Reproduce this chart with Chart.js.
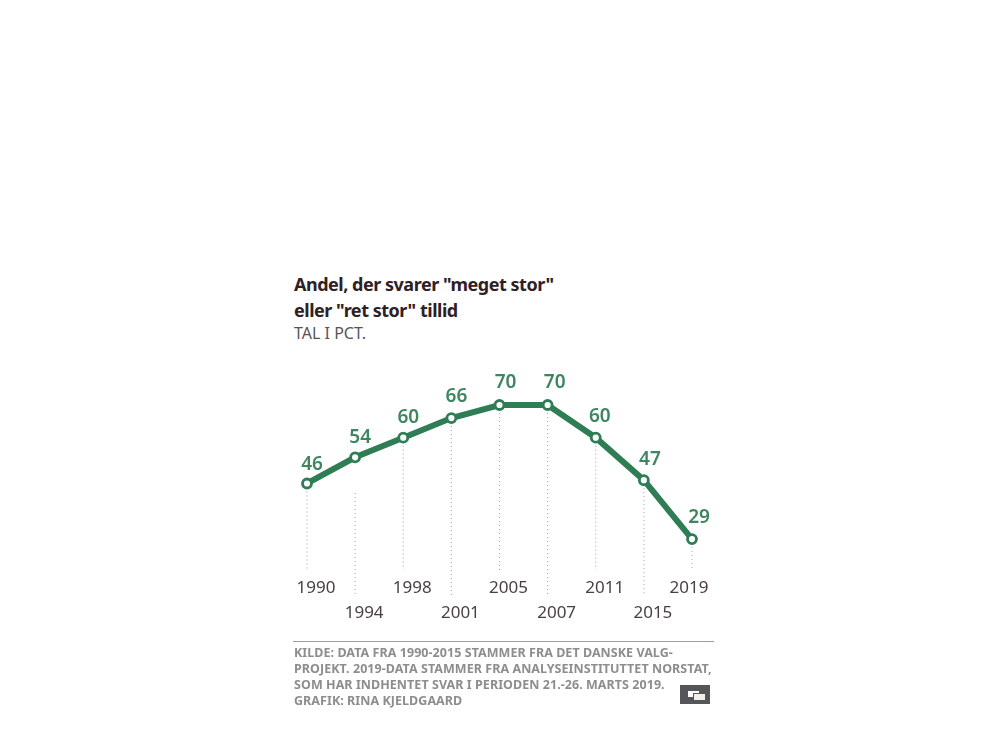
<!DOCTYPE html>
<html lang="da">
<head>
<meta charset="utf-8">
<title>Andel, der svarer "meget stor" eller "ret stor" tillid</title>
<script src="https://cdn.jsdelivr.net/npm/chart.js@4"></script>
<style>
    html, body { margin: 0; padding: 0; background: #fff; }
    body { width: 1000px; height: 750px; position: relative; overflow: hidden; font-family: "Noto Sans", sans-serif; }
    #myChart { position: absolute; left: 0; top: 0; }
    .txt { position: absolute; white-space: nowrap; }
    #title { left: 294px; top: 271px; font-size: 18px; line-height: 26px; font-weight: 700; color: #2f2024; letter-spacing: -0.48px; }
    #subtitle { left: 294px; top: 322px; font-size: 16px; line-height: 22px; color: #5a5356; letter-spacing: 0; }
    #rule { position: absolute; left: 293px; top: 641px; width: 421px; height: 1px; background: #a89a9a; }
    #source { left: 294px; top: 645px; font-size: 12.5px; line-height: 16px; font-weight: 700; color: #8d8d8d; letter-spacing: 0.05px; }
    #icon { position: absolute; left: 680px; top: 685px; width: 30px; height: 19px; background: #55565a; }
    #icon i { position: absolute; display: block; background: #fff; border: 1px solid #55565a; }
</style>
</head>
<body>
<div class="txt" id="title">Andel, der svarer "meget stor"<br>eller "ret stor" tillid</div>
<div class="txt" id="subtitle">TAL I PCT.</div>
<canvas id="myChart" width="1000" height="750"></canvas>
<div id="rule"></div>
<div class="txt" id="source">KILDE: DATA FRA 1990-2015 STAMMER FRA DET DANSKE VALG-<br>PROJEKT. 2019-DATA STAMMER FRA ANALYSEINSTITUTTET NORSTAT,<br>SOM HAR INDHENTET SVAR I PERIODEN 21.-26. MARTS 2019.<br>GRAFIK: RINA KJELDGAARD</div>
<div id="icon"><i style="left:7px;top:5px;width:11px;height:6px"></i><i style="left:13px;top:8px;width:11px;height:6px;background:#f2efe4"></i></div>
<script>
const years = ['1990', '1994', '1998', '2001', '2005', '2007', '2011', '2015', '2019'];
const andel = [46, 54, 60, 66, 70, 70, 60, 47, 29];

const green = '#2f7d54';

// value labels are hand placed in the original, so nudge each one from its point
const labelDx = [5, 5, 5, 5, 6, 7, 4, 6, 7];
const labelUp = [13, 14, 15, 16, 17, 17, 16, 15, 16];

// dotted drop lines, year labels and value labels
const annotations = {
    id: 'annotations',
    beforeDatasetsDraw(chart) {
        const { ctx, scales: { x, y } } = chart;
        ctx.save();
        ctx.strokeStyle = '#a0a0a0';
        ctx.lineWidth = 1;
        ctx.setLineDash([1, 3]);
        years.forEach((year, i) => {
            const px = x.getPixelForValue(i);
            const low = i % 2 === 1;
            // the 1994 line starts well below its point in the original
            const from = i === 1 ? 493 : y.getPixelForValue(andel[i]);
            ctx.beginPath();
            ctx.moveTo(px, from);
            ctx.lineTo(px, low ? 595 : 570);
            ctx.stroke();
        });
        ctx.restore();
    },
    afterDatasetsDraw(chart) {
        const { ctx, scales: { x, y } } = chart;
        ctx.save();
        ctx.textAlign = 'center';
        ctx.textBaseline = 'alphabetic';
        ctx.font = '17px "Noto Sans"';
        ctx.fillStyle = '#4a4044';
        years.forEach((year, i) => {
            const shift = i === years.length - 1 ? -3 : 9;
            ctx.fillText(year, x.getPixelForValue(i) + shift, i % 2 === 1 ? 618 : 593);
        });
        ctx.font = '600 19px "Noto Sans"';
        ctx.fillStyle = '#3f8560';
        andel.forEach((v, i) => {
            ctx.fillText(String(v), x.getPixelForValue(i) + labelDx[i], y.getPixelForValue(v) - labelUp[i]);
        });
        ctx.restore();
    }
};

new Chart(document.getElementById('myChart'), {
    type: 'line',
    data: {
        labels: years,
        datasets: [{
            data: andel,
            borderColor: green,
            borderWidth: 6,
            tension: 0,
            fill: false,
            pointRadius: 4.5,
            pointBorderWidth: 2.8,
            pointBackgroundColor: '#fff',
            pointBorderColor: green
        }]
    },
    options: {
        responsive: false,
        animation: false,
        layout: { padding: { left: 307, right: 308, top: 372.3, bottom: 181.5 } },
        plugins: { legend: { display: false }, title: { display: false }, tooltip: { enabled: false } },
        scales: {
            x: { display: false, offset: false },
            y: { display: false, min: 20, max: 80 }
        }
    },
    plugins: [annotations]
});
</script>
</body>
</html>
